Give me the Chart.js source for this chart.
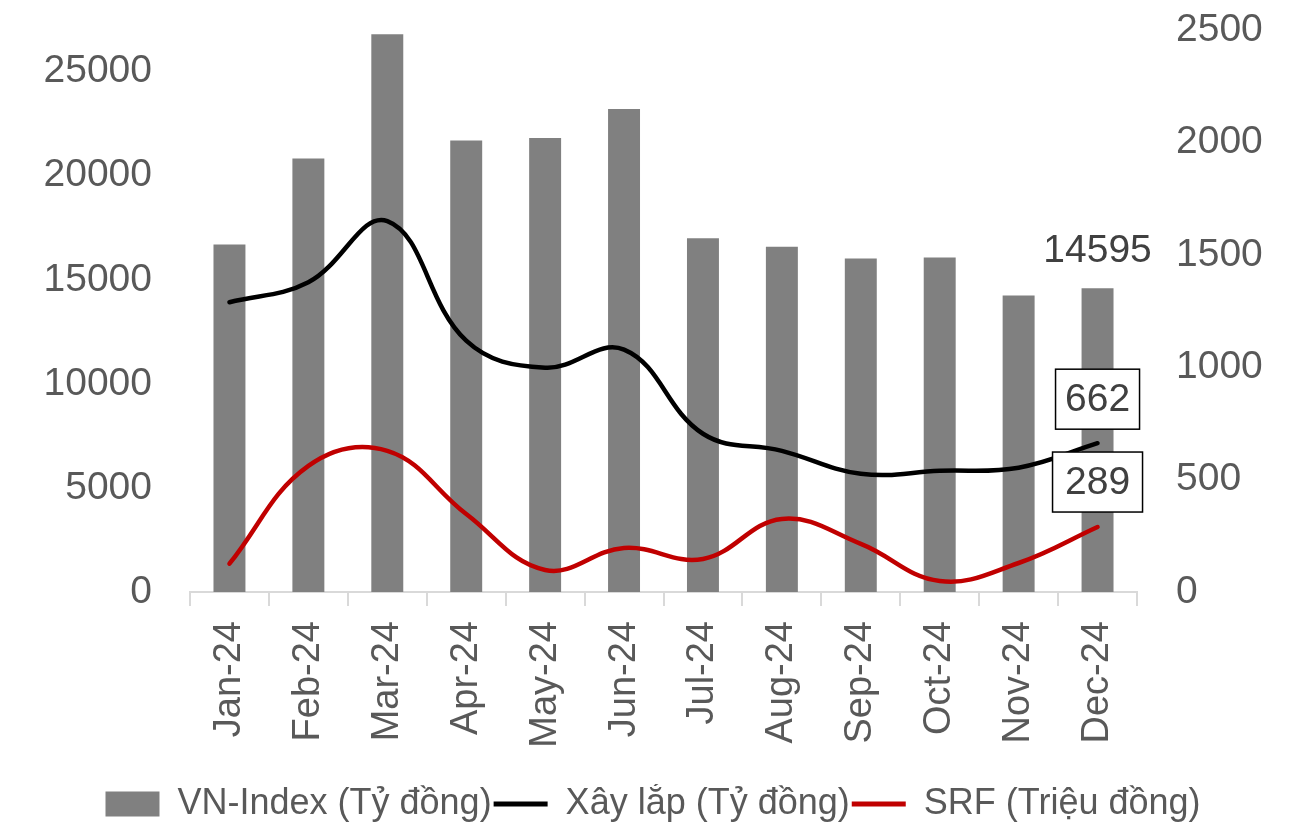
<!DOCTYPE html>
<html>
<head>
<meta charset="utf-8">
<script src="https://cdn.jsdelivr.net/npm/chart.js"></script>
<style>
  html, body { margin: 0; padding: 0; background: #fff; }
  #wrap { width: 1302px; height: 826px; }
</style>
</head>
<body>
<div id="wrap"><canvas id="myChart" width="1302" height="826"></canvas></div>
<script>
const labels = ['Jan-24', 'Feb-24', 'Mar-24', 'Apr-24', 'May-24', 'Jun-24', 'Jul-24', 'Aug-24', 'Sep-24', 'Oct-24', 'Nov-24', 'Dec-24']
const vnIndex = [16690, 20830, 26790, 21690, 21810, 23210, 16990, 16590, 16020, 16070, 14240, 14595]
const xayLap = [1289, 1378, 1650, 1118, 998, 1078, 704, 628, 526, 539, 553, 662]
const srf = [126, 561, 628, 347, 98, 196, 147, 325, 214, 49, 129, 289]
const leftTicks = [0, 5000, 10000, 15000, 20000, 25000]
const rightTicks = [0, 500, 1000, 1500, 2000, 2500]

const fontFam = '"Liberation Sans", Arial, sans-serif'
const textCol = '#595959'

// labels for the last point of each series
const endLabels = {
  id: 'endLabels',
  afterDatasetsDraw(chart) {
    const ctx = chart.ctx
    const x = chart.scales.x.getPixelForValue(11)
    ctx.save()
    ctx.font = '39px ' + fontFam
    ctx.textAlign = 'center'
    ctx.textBaseline = 'middle'

    // bar value, no box
    let yb = chart.scales.y.getPixelForValue(vnIndex[11])
    ctx.fillStyle = '#404040'
    ctx.fillText(String(vnIndex[11]), x, yb - 37)

    const boxed = (val, dy, w) => {
      const y = chart.scales.y1.getPixelForValue(val) + dy
      const h = 60
      ctx.fillStyle = '#fff'
      ctx.fillRect(x - w / 2, y - h / 2, w, h)
      ctx.strokeStyle = '#000'
      ctx.lineWidth = 1.5
      ctx.strokeRect(x - w / 2, y - h / 2, w, h)
      ctx.fillStyle = '#404040'
      ctx.fillText(String(val), x, y + 1)
    }
    boxed(xayLap[11], -44, 84)
    boxed(srf[11], -45, 90)
    ctx.restore()
  }
}

new Chart(document.getElementById('myChart'), {
  type: 'bar',
  data: {
    labels: labels,
    datasets: [
      {
        label: 'VN-Index (Tỷ đồng)',
        data: vnIndex,
        backgroundColor: '#808080',
        yAxisID: 'y',
        barPercentage: 0.405,
        categoryPercentage: 1,
        order: 2
      },
      {
        type: 'line',
        label: 'Xây lắp (Tỷ đồng)',
        data: xayLap,
        borderColor: '#000000',
        backgroundColor: '#000000',
        borderWidth: 4.5,
        pointRadius: 0,
        tension: 0.4,
        borderCapStyle: 'round',
        yAxisID: 'y1',
        order: 1
      },
      {
        type: 'line',
        label: 'SRF (Triệu đồng)',
        data: srf,
        borderColor: '#c00000',
        backgroundColor: '#c00000',
        borderWidth: 4.5,
        pointRadius: 0,
        tension: 0.4,
        borderCapStyle: 'round',
        yAxisID: 'y1',
        order: 0
      }
    ]
  },
  options: {
    responsive: false,
    animation: false,
    layout: { padding: { left: 41, right: 37, top: 30, bottom: -6 } },
    plugins: {
      tooltip: { enabled: false },
      legend: {
        position: 'bottom',
        labels: {
          usePointStyle: true,
          pointStyleWidth: 54,
          boxHeight: 25,
          padding: 2,
          color: textCol,
          font: { size: 36, family: fontFam },
          sort: (a, b) => a.datasetIndex - b.datasetIndex,
          generateLabels(chart) {
            const items = Chart.defaults.plugins.legend.labels.generateLabels(chart)
            items.forEach(it => {
              if (it.datasetIndex === 0) {
                it.pointStyle = 'rect'
                it.lineWidth = 0
              } else {
                it.pointStyle = 'line'
                it.lineWidth = 5
              }
            })
            return items
          }
        }
      }
    },
    scales: {
      x: {
        offset: true,
        grid: {
          display: true,
          drawOnChartArea: false,
          offset: true,
          color: '#d9d9d9',
          lineWidth: 2,
          tickLength: 14
        },
        border: { display: true, color: '#d9d9d9', width: 2 },
        ticks: {
          color: textCol,
          font: { size: 38, family: fontFam },
          minRotation: 90,
          maxRotation: 90,
          padding: 15
        },
        afterFit(axis) {
          axis.paddingLeft = 0
          axis.paddingRight = 0
          axis.height = 192
        }
      },
      y: {
        position: 'left',
        min: 0,
        max: 27000,
        grid: { display: false, drawTicks: false },
        border: { display: false },
        afterBuildTicks(axis) {
          axis.ticks = leftTicks.map(v => ({ value: v }))
        },
        afterFit(axis) {
          axis.paddingTop = 0
          axis.paddingBottom = 0
          axis.width = 149
        },
        ticks: {
          color: textCol,
          font: { size: 39, family: fontFam },
          padding: 38,
          callback: v => String(v)
        }
      },
      y1: {
        position: 'right',
        min: 0,
        max: 2500,
        grid: { display: false, drawTicks: false },
        border: { display: false },
        afterBuildTicks(axis) {
          axis.ticks = rightTicks.map(v => ({ value: v }))
        },
        afterFit(axis) {
          axis.paddingTop = 0
          axis.paddingBottom = 0
          axis.width = 128
        },
        ticks: {
          color: textCol,
          font: { size: 39, family: fontFam },
          padding: 39,
          callback: v => String(v)
        }
      }
    }
  },
  plugins: [endLabels]
})
</script>
</body>
</html>
